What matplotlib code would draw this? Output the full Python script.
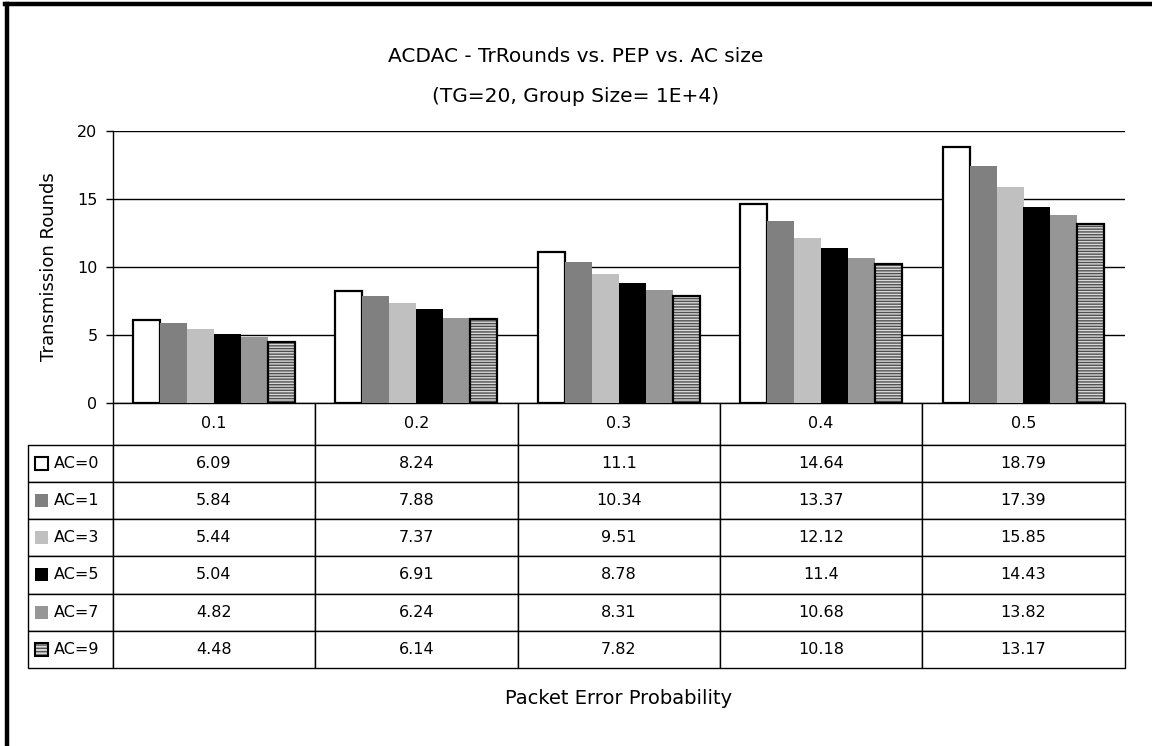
import matplotlib
matplotlib.use("Agg")
import matplotlib.pyplot as plt
from matplotlib.patches import Rectangle
import numpy as np

# data
pep = ["0.1", "0.2", "0.3", "0.4", "0.5"]
series = ["AC=0", "AC=1", "AC=3", "AC=5", "AC=7", "AC=9"]
ac0 = [6.09, 8.24, 11.1, 14.64, 18.79]
ac1 = [5.84, 7.88, 10.34, 13.37, 17.39]
ac3 = [5.44, 7.37, 9.51, 12.12, 15.85]
ac5 = [5.04, 6.91, 8.78, 11.4, 14.43]
ac7 = [4.82, 6.24, 8.31, 10.68, 13.82]
ac9 = [4.48, 6.14, 7.82, 10.18, 13.17]
values = [ac0, ac1, ac3, ac5, ac7, ac9]

faces = ["white", "#808080", "#c0c0c0", "black", "#969696", "#d0d0d0"]
plt.rcParams["font.family"] = ["DejaVu Sans"]

fig = plt.figure(figsize=(11.52, 7.46), dpi=100)
W, H = 1152, 746
x0, x1, y0, y1 = 112.7, 1124.7, 402.7, 131.0
ax = fig.add_axes([x0 / W, 1 - y0 / H, (x1 - x0) / W, (y0 - y1) / H])

# outer frame (left and top only, rest is cropped)
fig.add_artist(plt.Line2D([7 / W, 7 / W], [0, 1 - 4 / H], color="black", lw=3.2))
fig.add_artist(plt.Line2D([5 / W, 1], [1 - 4 / H, 1 - 4 / H], color="black", lw=3.2))

x = np.arange(len(pep))
bw = 0.8 / len(series)
for i, vals in enumerate(values):
    pos = x - 0.4 + bw * (i + 0.5)
    if i == 0:
        ax.bar(pos, vals, bw, color="white", edgecolor="black", lw=1.6, zorder=3)
    elif i == 5:
        ax.bar(pos, vals, bw, color="#d8d8d8", edgecolor="#505050", hatch="------",
               lw=0, zorder=3)
        ax.bar(pos, vals, bw, fill=False, edgecolor="black", lw=1.6, zorder=4)
    else:
        ax.bar(pos, vals, bw, color=faces[i], lw=0, zorder=3)

ax.set_xlim(-0.5, len(pep) - 0.5)
ax.set_ylim(0, 20)
ax.set_yticks([0, 5, 10, 15, 20])
ax.yaxis.grid(True, color="black", lw=1)
ax.set_axisbelow(True)
ax.set_xticks([])
for s in ["top", "right", "bottom"]:
    ax.spines[s].set_visible(False)
ax.spines["left"].set_linewidth(1)
ax.tick_params(axis="y", length=5, width=1, labelsize=11.5, pad=6)
ax.set_ylabel("Transmission Rounds", fontsize=13, labelpad=14)

# data table below the bars (first column holds the legend keys)
hdr, rowh = 42.0, 37.2
tbl_left, tbl_bot = 28.0, 668.0
colw = (x1 - x0) / len(pep)
cells = [[""] + [("%.2f" % v).rstrip("0").rstrip(".") for v in vals] for vals in values]
tbl = ax.table(cellText=cells, colLabels=[""] + pep, cellLoc="center",
               colWidths=[x0 - tbl_left] + [colw] * len(pep),
               bbox=[(tbl_left - x0) / (x1 - x0), -(tbl_bot - y0) / (y0 - y1),
                     (x1 - tbl_left) / (x1 - x0), (tbl_bot - y0) / (y0 - y1)])
tbl.auto_set_font_size(False)
tbl.set_fontsize(11.5)
for (r, c), cell in tbl.get_celld().items():
    cell.set_linewidth(1)
    cell.set_height(hdr if r == 0 else rowh)
tbl[0, 0].visible_edges = ""
tbl[0, 0].set_facecolor("none")

for i, name in enumerate(series):
    yc = -(hdr + rowh * (i + 0.5)) / (y0 - y1)
    sq = 13.0
    if i == 5:
        ax.add_patch(Rectangle(((35 - x0) / (x1 - x0), yc - sq / 2 / (y0 - y1)),
                               sq / (x1 - x0), sq / (y0 - y1), transform=ax.transAxes,
                               facecolor="#d8d8d8", edgecolor="#505050", hatch="-----",
                               lw=0, clip_on=False, zorder=5))
    ax.add_patch(Rectangle(((35 - x0) / (x1 - x0), yc - sq / 2 / (y0 - y1)),
                           sq / (x1 - x0), sq / (y0 - y1), transform=ax.transAxes,
                           facecolor=faces[i] if i < 5 else "none",
                           edgecolor="black" if i in (0, 5) else "none",
                           lw=1.5, clip_on=False, zorder=5))
    ax.text((54 - x0) / (x1 - x0), yc, name, transform=ax.transAxes,
            ha="left", va="center", fontsize=11.5, zorder=5)

fig.text(0.5, 1 - 57 / H, "ACDAC - TrRounds vs. PEP vs. AC size", ha="center",
         va="center", fontsize=14.5)
fig.text(0.5, 1 - 97 / H, "(TG=20, Group Size= 1E+4)", ha="center",
         va="center", fontsize=14.5)
fig.text((x0 + x1) / 2 / W, 1 - 698 / H, "Packet Error Probability", ha="center",
         va="center", fontsize=14)

fig.savefig("out.png", dpi=100)
